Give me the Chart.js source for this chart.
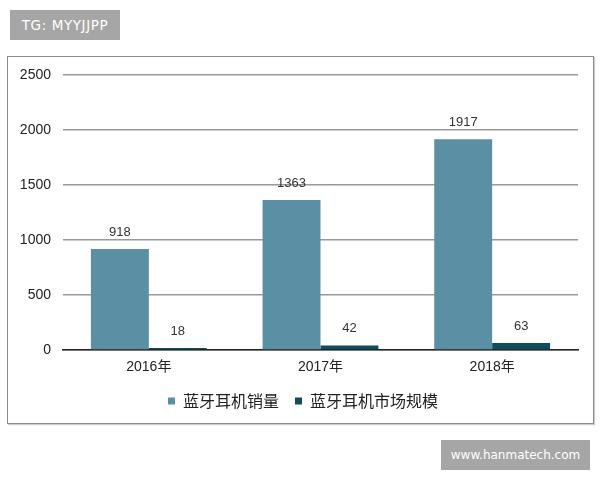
<!DOCTYPE html>
<html>
<head>
<meta charset="utf-8">
<script src="https://cdn.jsdelivr.net/npm/chart.js@4.4.0/dist/chart.umd.min.js"></script>
<style>
	html, body { margin: 0; padding: 0; background: #fff; }
	#wrap { position: relative; width: 600px; height: 480px; overflow: hidden; }
	#frame { position: absolute; left: 7px; top: 56px; width: 585px; height: 366px; border: 1px solid #8c8c8c; box-shadow: 1px 1px 1px #ccc; }
	#chartBox { position: absolute; left: 0; top: 0; width: 600px; height: 480px; }
	.mark { position: absolute; background: #a6a6a6; color: #fff; font-family: "DejaVu Sans", sans-serif; font-size: 12px; line-height: 30px; text-align: center; }
	#tg { left: 10px; top: 10px; width: 110px; height: 30px; font-size: 13.5px; letter-spacing: 0.6px; }
	#site { left: 441px; top: 440px; width: 149px; height: 30px; }
</style>
</head>
<body>
<div id="wrap">
	<div id="frame"></div>
	<div id="chartBox"><canvas id="chart1"></canvas></div>
	<div class="mark" id="tg">TG: MYYJJPP</div>
	<div class="mark" id="site">www.hanmatech.com</div>
</div>
<script>
var years = ['2016年', '2017年', '2018年'];
var sales = [918, 1363, 1917];
var marketSize = [18, 42, 63];
var yTicks = [0, 500, 1000, 1500, 2000, 2500];

var barLabels = {
	id: 'barLabels',
	afterDatasetsDraw: function(chart) {
		var ctx = chart.ctx;
		ctx.save();
		ctx.font = '13px "Liberation Sans", Arial, sans-serif';
		ctx.fillStyle = '#333';
		ctx.textAlign = 'center';
		ctx.textBaseline = 'middle';
		chart.data.datasets.forEach(function(ds, i) {
			var meta = chart.getDatasetMeta(i);
			meta.data.forEach(function(bar, j) {
				ctx.fillText(ds.data[j], bar.x, bar.y - 17);
			});
		});
		ctx.restore();
	}
};

// legend sits a little right of the plot centre in the original
var legendShift = {
	id: 'legendShift',
	afterLayout: function(chart) {
		if (chart.legend) chart.legend.left += 28;
	}
};

var ctx = document.getElementById('chart1').getContext('2d');
new Chart(ctx, {
	type: 'bar',
	data: {
		labels: years,
		datasets: [{
			label: '蓝牙耳机销量',
			data: sales,
			backgroundColor: '#5b8fa3'
		}, {
			label: '蓝牙耳机市场规模',
			data: marketSize,
			backgroundColor: '#0f4c5c'
		}]
	},
	plugins: [barLabels, legendShift],
	options: {
		responsive: true,
		maintainAspectRatio: false,
		animation: false,
		categoryPercentage: 0.675,
		barPercentage: 1,
		layout: {
			padding: { top: 75, right: 22, bottom: 61, left: 0 }
		},
		plugins: {
			tooltip: { enabled: false },
			legend: {
				position: 'bottom',
				labels: {
					boxWidth: 7,
					boxHeight: 7,
					padding: 16,
					color: '#222',
					font: { size: 16, family: '"Noto Sans CJK SC", sans-serif' }
				}
			}
		},
		scales: {
			x: {
				grid: { display: false, drawTicks: false },
				border: { display: true, color: '#222', width: 1.5 },
				ticks: {
					padding: 9,
					color: '#222',
					font: { size: 14, family: '"Liberation Sans", "Noto Sans CJK SC", sans-serif' }
				},
				afterFit: function(scale) { scale.height = 27; }
			},
			y: {
				min: 0,
				max: 2500,
				afterBuildTicks: function(scale) {
					scale.ticks = yTicks.map(function(v) { return { value: v }; });
				},
				grid: { color: '#999', lineWidth: 1.5, drawTicks: false },
				border: { display: false },
				ticks: {
					padding: 12,
					color: '#222',
					font: { size: 14, family: '"Liberation Sans", Arial, sans-serif' },
					callback: function(v) { return String(v); }
				},
				afterFit: function(scale) { scale.width = 63; }
			}
		}
	}
});
</script>
</body>
</html>
